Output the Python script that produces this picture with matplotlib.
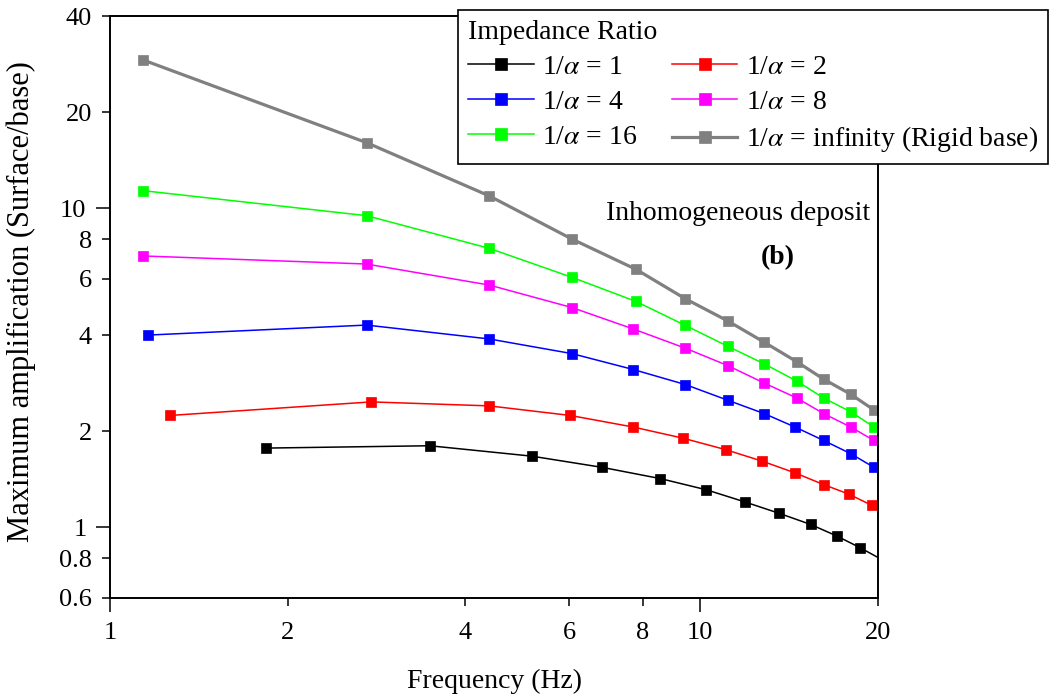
import matplotlib
matplotlib.use("Agg")
import matplotlib.pyplot as plt
from matplotlib.ticker import FixedLocator, FuncFormatter

plt.rcParams['font.family'] = ['Liberation Serif', 'DejaVu Serif']
plt.rcParams['mathtext.fontset'] = 'stix'

# frequencies (Hz) and maximum amplification
# the last point of each series sits just past 20 Hz and is clipped by the axes
freq_1 = [1.84, 3.48, 5.18, 6.82, 8.56, 10.24, 11.9, 13.61, 15.38, 17.02, 18.64, 20.6]
amp_1 = [1.77, 1.80, 1.67, 1.54, 1.42, 1.31, 1.20, 1.105, 1.02, 0.939, 0.863, 0.78]

freq_2 = [1.265, 2.77, 4.39, 6.02, 7.7, 9.36, 11.04, 12.74, 14.47, 16.18, 17.84, 19.54, 21.4]
amp_2 = [2.24, 2.47, 2.40, 2.24, 2.06, 1.90, 1.75, 1.61, 1.48, 1.36, 1.27, 1.17, 1.08]

freq_4 = [1.158, 2.72, 4.39, 6.06, 7.7, 9.43, 11.13, 12.83, 14.47, 16.18, 17.98, 19.69, 21.5]
amp_4 = [4.00, 4.30, 3.89, 3.50, 3.12, 2.80, 2.50, 2.27, 2.06, 1.87, 1.70, 1.54, 1.40]

freq_8 = [1.139, 2.72, 4.39, 6.06, 7.7, 9.43, 11.13, 12.83, 14.57, 16.18, 17.98, 19.69, 21.5]
amp_8 = [7.08, 6.68, 5.74, 4.88, 4.18, 3.64, 3.21, 2.83, 2.54, 2.27, 2.06, 1.87, 1.70]

freq_16 = [1.139, 2.72, 4.39, 6.06, 7.78, 9.43, 11.13, 12.83, 14.57, 16.18, 17.98, 19.69, 21.5]
amp_16 = [11.34, 9.47, 7.48, 6.07, 5.10, 4.29, 3.69, 3.25, 2.87, 2.54, 2.30, 2.06, 1.85]

freq_inf = [1.139, 2.72, 4.39, 6.06, 7.78, 9.43, 11.13, 12.83, 14.57, 16.18, 17.98, 19.69, 21.5]
amp_inf = [29.1, 16.04, 10.92, 8.00, 6.43, 5.20, 4.43, 3.80, 3.30, 2.91, 2.61, 2.33, 2.09]

series = [
    (freq_1, amp_1, 'black', 1.1, '1/$\\alpha$ = 1'),
    (freq_2, amp_2, 'red', 1.1, '1/$\\alpha$ = 2'),
    (freq_4, amp_4, 'blue', 1.1, '1/$\\alpha$ = 4'),
    (freq_8, amp_8, 'magenta', 1.1, '1/$\\alpha$ = 8'),
    (freq_16, amp_16, 'lime', 1.1, '1/$\\alpha$ = 16'),
    (freq_inf, amp_inf, 'gray', 2.3, '1/$\\alpha$ = infinity (Rigid base)'),
]

x_ticks = [1, 2, 4, 6, 8, 10, 20]
y_ticks = [0.6, 0.8, 1, 2, 4, 6, 8, 10, 20, 40]

fig = plt.figure(figsize=(10.51, 6.99), dpi=100)
ax = fig.add_axes([0.1047, 0.1445, 0.7307, 0.8326])

lines = []
for f, a, c, lw, lab in series:
    l, = ax.plot(f, a, color=c, lw=lw, marker='s', markersize=6.5,
                 markeredgecolor=c, markeredgewidth=0.5, label=lab)
    lines.append(l)

ax.set_xscale('log')
ax.set_yscale('log')
ax.set_xlim(1, 20)
ax.set_ylim(0.6, 40)

fmt = FuncFormatter(lambda v, p: f'{v:g}')
ax.xaxis.set_major_locator(FixedLocator([1, 10]))
ax.xaxis.set_minor_locator(FixedLocator([t for t in x_ticks if t not in (1, 10)]))
ax.yaxis.set_major_locator(FixedLocator([1, 10]))
ax.yaxis.set_minor_locator(FixedLocator([t for t in y_ticks if t not in (1, 10)]))
for axis in (ax.xaxis, ax.yaxis):
    axis.set_major_formatter(fmt)
    axis.set_minor_formatter(fmt)

ax.tick_params(which='major', length=10, width=1.1, labelsize=19, pad=7)
ax.tick_params(which='minor', length=6, width=1.1, labelsize=19, pad=7)
ax.tick_params(axis='x', which='minor', pad=11)
for s in ax.spines.values():
    s.set_linewidth(1.4)

ax.set_xlabel('Frequency (Hz)', fontsize=20, labelpad=18)
ax.set_ylabel('Maximum amplification (Surface/base)', fontsize=22)
ax.yaxis.set_label_coords(-0.096, 0.509)

ax.text(0.9896, 0.66, 'Inhomogeneous deposit', transform=ax.transAxes,
        ha='right', va='center', fontsize=20)
ax.text(0.87, 0.585, '(b)', transform=ax.transAxes, ha='center', va='center',
        fontsize=20, fontweight='bold')

# legend filled row by row like the original
order = [0, 2, 4, 1, 3, 5]
leg = ax.legend([lines[i] for i in order], [series[i][4] for i in order],
                loc='upper right', bbox_to_anchor=(1048 / 1051, 1 - 10 / 699),
                bbox_transform=fig.transFigure, ncol=2, fontsize=20,
                title='Impedance Ratio', title_fontsize=20, alignment='left',
                frameon=True, fancybox=False, framealpha=1, edgecolor='black',
                handlelength=2.35, handletextpad=0.3, columnspacing=1.25,
                labelspacing=0.34, borderpad=0.36, borderaxespad=0,
                markerscale=1.35)
leg.get_frame().set_linewidth(1.2)
leg.set_zorder(10)

fig.savefig('out.png', dpi=100)
